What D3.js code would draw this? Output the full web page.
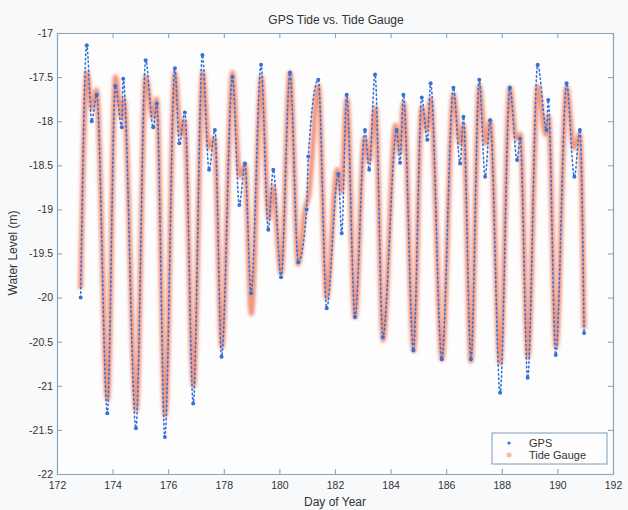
<!DOCTYPE html>
<html>
<head>
<meta charset="utf-8">
<script src="https://cdn.jsdelivr.net/npm/d3@7"></script>
<style>
  body { margin: 0; background: #f8f9fb; }
  svg { display: block; font-family: "Liberation Sans", Arial, sans-serif; }
</style>
</head>
<body>
<div id="chart"></div>
<script>
// values (day of year, water level in m)
const gaugeDay = [172.85, 173.08, 173.25, 173.42, 173.82, 174.10, 174.32, 174.40, 174.85, 175.19,
  175.45, 175.58, 175.89, 176.24, 176.45, 176.58, 176.91, 177.24, 177.47, 177.66,
  177.93, 178.31, 178.57, 178.76, 178.99, 179.35, 179.62, 179.77, 180.06, 180.38,
  180.68, 180.92, 181.05, 181.40, 181.70, 182.08, 182.22, 182.43, 182.72, 183.06,
  183.22, 183.45, 183.73, 184.18, 184.33, 184.47, 184.83, 185.12, 185.30, 185.44,
  185.85, 186.26, 186.50, 186.62, 186.89, 187.19, 187.42, 187.58, 187.94, 188.29,
  188.52, 188.66, 188.94, 189.29, 189.58, 189.68, 189.95, 190.33, 190.60, 190.80, 190.96];
const gaugeLevel = [-19.90, -17.45, -17.85, -17.65, -21.15, -17.50, -17.95, -17.75, -21.27, -17.50,
  -17.95, -17.75, -21.33, -17.46, -18.15, -18.00, -21.00, -17.45, -18.30, -18.20,
  -20.56, -17.45, -18.62, -18.50, -20.18, -17.50, -19.10, -18.75, -19.72, -17.45,
  -19.62, -19.00, -18.85, -17.60, -20.00, -18.55, -18.80, -17.75, -20.22, -18.20,
  -18.45, -17.85, -20.48, -18.05, -18.35, -17.80, -20.60, -17.85, -18.10, -17.75,
  -20.70, -17.70, -18.25, -18.05, -20.72, -17.60, -18.25, -18.00, -20.74, -17.62,
  -18.20, -18.15, -20.67, -17.61, -18.15, -17.95, -20.55, -17.62, -18.30, -18.15, -20.35];

const gpsDay = [172.85, 173.07, 173.25, 173.43, 173.81, 174.10, 174.33, 174.38, 174.84, 175.19,
  175.46, 175.59, 175.88, 176.24, 176.40, 176.60, 176.90, 177.23, 177.47, 177.68,
  177.92, 178.31, 178.56, 178.76, 178.98, 179.34, 179.60, 179.78, 180.06, 180.38,
  180.68, 180.98, 181.04, 181.40, 181.70, 182.12, 182.24, 182.42, 182.72, 183.08,
  183.23, 183.44, 183.72, 184.22, 184.34, 184.46, 184.82, 185.12, 185.32, 185.44,
  185.84, 186.26, 186.50, 186.62, 186.89, 187.19, 187.40, 187.58, 187.94, 188.29,
  188.55, 188.66, 188.93, 189.29, 189.61, 189.67, 189.94, 190.33, 190.61, 190.81, 190.96];
const gpsLevel = [-20.00, -17.14, -18.00, -17.70, -21.31, -17.60, -18.07, -17.52, -21.48, -17.31,
  -18.07, -17.80, -21.58, -17.40, -18.25, -17.90, -21.20, -17.25, -18.55, -18.10,
  -20.67, -17.50, -18.95, -18.48, -19.95, -17.36, -19.23, -18.55, -19.77, -17.45,
  -19.60, -19.00, -18.40, -17.53, -20.12, -18.60, -19.27, -17.70, -20.22, -18.10,
  -18.55, -17.47, -20.45, -18.10, -18.47, -17.70, -20.60, -17.73, -18.21, -17.57,
  -20.70, -17.62, -18.48, -17.95, -20.70, -17.53, -18.63, -17.99, -21.08, -17.62,
  -18.44, -18.20, -20.91, -17.36, -18.10, -17.76, -20.65, -17.57, -18.63, -18.10, -20.40];

const xTicks = [172, 174, 176, 178, 180, 182, 184, 186, 188, 190, 192];
const yTicks = [-17, -17.5, -18, -18.5, -19, -19.5, -20, -20.5, -21, -21.5, -22];
const seriesNames = ["GPS", "Tide Gauge"];

const width = 628;
const height = 510;
const margin = { top: 33, right: 15, bottom: 36, left: 57 };
const innerW = width - margin.left - margin.right;
const innerH = height - margin.top - margin.bottom;

const gpsColor = "#3572d8";
const gaugeColor = "#ee7d5e";
const axisColor = "#8aa4ba";

const svg = d3.select("#chart")
  .append("svg")
  .attr("width", width)
  .attr("height", height);

svg.append("rect").attr("width", width).attr("height", height).attr("fill", "#f8f9fb");

const defs = svg.append("defs");
defs.append("filter").attr("id", "soft")
  .attr("x", "-10%").attr("y", "-10%").attr("width", "120%").attr("height", "120%")
  .append("feGaussianBlur").attr("stdDeviation", 1.1);
defs.append("filter").attr("id", "softer")
  .append("feGaussianBlur").attr("stdDeviation", 0.45);

const g = svg.append("g")
  .attr("transform", `translate(${margin.left},${margin.top})`);

const x = d3.scaleLinear().domain([172, 192]).range([0, innerW]);
const y = d3.scaleLinear().domain([-22, -17]).range([innerH, 0]);

g.append("rect")
  .attr("width", innerW)
  .attr("height", innerH)
  .attr("fill", "#fdfdfe");

const gauge = gaugeDay.map((d, i) => [d, gaugeLevel[i]]);
const gps = gpsDay.map((d, i) => [d, gpsLevel[i]]);

const line = d3.line()
  .x(d => x(d[0]))
  .y(d => y(d[1]))
  .curve(d3.curveMonotoneX);

// tide gauge: soft salmon band
const gaugeGroup = g.append("g").attr("filter", "url(#soft)");
gaugeGroup.append("path")
  .attr("d", line(gauge))
  .attr("fill", "none")
  .attr("stroke", gaugeColor)
  .attr("stroke-opacity", 0.28)
  .attr("stroke-width", 7.5)
  .attr("stroke-linejoin", "round");
gaugeGroup.append("path")
  .attr("d", line(gauge))
  .attr("fill", "none")
  .attr("stroke", gaugeColor)
  .attr("stroke-opacity", 0.72)
  .attr("stroke-width", 4)
  .attr("stroke-linejoin", "round");

// GPS: dotted blue
const gpsGroup = g.append("g").attr("filter", "url(#softer)");
gpsGroup.append("path")
  .attr("d", line(gps))
  .attr("fill", "none")
  .attr("stroke", gpsColor)
  .attr("stroke-width", 1.6)
  .attr("stroke-dasharray", "1.4,3")
  .attr("stroke-linecap", "round");

gpsGroup.selectAll("circle.gps")
  .data(gps)
  .enter()
  .append("circle")
  .attr("class", "gps")
  .attr("cx", d => x(d[0]))
  .attr("cy", d => y(d[1]))
  .attr("r", 2)
  .attr("fill", gpsColor);

// axes, ticks pointing inward
function styleAxis(sel) {
  sel.selectAll(".domain").attr("stroke", axisColor).attr("stroke-width", 1.2);
  sel.selectAll(".tick line").attr("stroke", axisColor).attr("stroke-width", 1.1);
  sel.selectAll(".tick text").attr("fill", "#333").style("font-size", "10.5px");
}

g.append("g")
  .attr("transform", `translate(0,${innerH})`)
  .call(d3.axisBottom(x).tickValues(xTicks).tickFormat(d => d).tickSize(-5).tickSizeOuter(0).tickPadding(8))
  .call(styleAxis);

g.append("g")
  .call(d3.axisTop(x).tickValues(xTicks).tickFormat("").tickSize(-5).tickSizeOuter(0))
  .call(styleAxis);

g.append("g")
  .call(d3.axisLeft(y).tickValues(yTicks).tickFormat(d => d).tickSize(-5).tickSizeOuter(0).tickPadding(4))
  .call(styleAxis);

g.append("g")
  .attr("transform", `translate(${innerW},0)`)
  .call(d3.axisRight(y).tickValues(yTicks).tickFormat("").tickSize(-5).tickSizeOuter(0))
  .call(styleAxis);

// titles
svg.append("text")
  .attr("x", 336).attr("y", 24)
  .attr("text-anchor", "middle")
  .attr("fill", "#333")
  .style("font-size", "12px")
  .text("GPS Tide vs. Tide Gauge");

svg.append("text")
  .attr("x", 335).attr("y", 506)
  .attr("text-anchor", "middle")
  .attr("fill", "#333")
  .style("font-size", "12px")
  .text("Day of Year");

svg.append("text")
  .attr("transform", "translate(17,253) rotate(-90)")
  .attr("text-anchor", "middle")
  .attr("fill", "#333")
  .style("font-size", "12px")
  .text("Water Level (m)");

// legend
const legend = svg.append("g").attr("transform", "translate(492,433)");
legend.append("rect")
  .attr("width", 115).attr("height", 31)
  .attr("fill", "#fdfdfe")
  .attr("stroke", axisColor)
  .attr("stroke-width", 1.1);

const legendColors = [gpsColor, gaugeColor];
seriesNames.forEach((name, i) => {
  legend.append("circle")
    .attr("cx", 17).attr("cy", 10 + i * 12)
    .attr("r", i === 0 ? 1.6 : 2.6)
    .attr("fill", legendColors[i])
    .attr("fill-opacity", i === 0 ? 1 : 0.5);
  legend.append("text")
    .attr("x", 37).attr("y", 14 + i * 12)
    .attr("fill", "#333")
    .style("font-size", "11px")
    .text(name);
});
</script>
</body>
</html>
